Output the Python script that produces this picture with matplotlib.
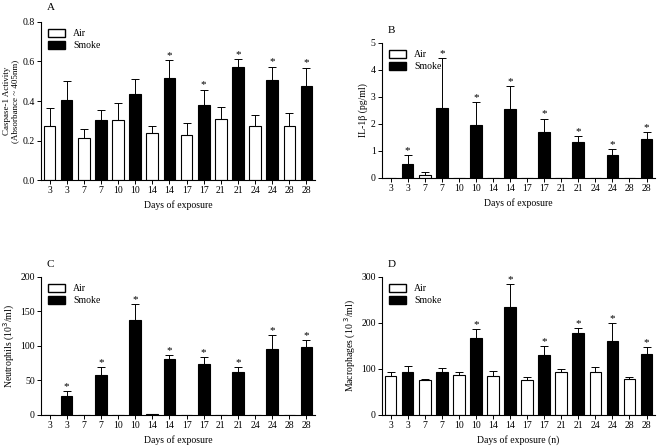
import numpy as np
import matplotlib
matplotlib.use('Agg')
import matplotlib.pyplot as plt
from matplotlib.patches import Patch

plt.rcParams['font.family'] = ['Liberation Serif', 'DejaVu Serif']
plt.rcParams['font.size'] = 7

dias = ['3', '3', '7', '7', '10', '10', '14', '14', '17', '17', '21', '21', '24', '24', '28', '28']
grupos = ['Air', 'Smoke'] * 8

# painel A - caspase-1
casp_val = [0.276, 0.406, 0.215, 0.305, 0.303, 0.434, 0.239, 0.515,
            0.227, 0.382, 0.310, 0.571, 0.276, 0.507, 0.276, 0.478]
casp_err = [0.088, 0.094, 0.043, 0.049, 0.086, 0.079, 0.034, 0.094,
            0.063, 0.076, 0.062, 0.043, 0.051, 0.067, 0.061, 0.091]
casp_sig = [0, 0, 0, 0, 0, 0, 0, 1, 0, 1, 0, 1, 0, 1, 0, 1]

# painel B - IL-1b
il_val = [0, 0.52, 0.10, 2.59, 0, 1.95, 0, 2.56, 0, 1.70, 0, 1.33, 0, 0.85, 0, 1.43]
il_err = [0, 0.31, 0.11, 1.85, 0, 0.85, 0, 0.85, 0, 0.50, 0, 0.21, 0, 0.21, 0, 0.27]
il_sig = [0, 1, 0, 1, 0, 1, 0, 1, 0, 1, 0, 1, 0, 1, 0, 1]

# painel C - neutrofilos
neu_val = [0, 28, 0, 58, 0, 138, 1.5, 81, 0, 74, 0, 62, 0, 95, 0, 98]
neu_err = [0, 7, 0, 12, 0, 22, 0, 6, 0, 10, 0, 8, 0, 21, 0, 11]
neu_sig = [0, 1, 0, 1, 0, 1, 0, 1, 0, 1, 0, 1, 0, 1, 0, 1]

# painel D - macrofagos
mac_val = [84, 94, 75, 94, 87, 167, 85, 234, 77, 130, 94, 178, 94, 161, 78, 133]
mac_err = [10, 12, 3, 8, 6, 19, 11, 50, 6, 19, 5, 10, 10, 38, 5, 14]
mac_sig = [0, 0, 0, 0, 0, 1, 0, 1, 0, 1, 0, 1, 0, 1, 0, 1]

fig = plt.figure(figsize=(6.61, 4.47), dpi=100)


def painel(pos, letra, val, err, sig, ymax, ystep, ylabel, xlabel, fmt, ylfs=7):
    ax = fig.add_axes(pos)
    x = np.arange(len(val))
    cores = ['white' if g == 'Air' else 'black' for g in grupos]
    ax.bar(x, val, width=0.68, color=cores, edgecolor='black', linewidth=0.8, zorder=2)
    ax.errorbar(x, val, yerr=[np.zeros(len(err)), err], fmt='none', ecolor='black',
                elinewidth=0.7, capsize=3, capthick=0.7, zorder=1)
    for i in range(len(val)):
        if sig[i]:
            ax.text(x[i], val[i] + err[i], '*', ha='center', va='bottom', fontsize=8)
    ax.set_xlim(-0.5, len(val) - 0.5)
    ax.set_ylim(0, ymax)
    ax.set_yticks(np.arange(0, ymax + ystep / 2, ystep))
    ax.yaxis.set_major_formatter(plt.FormatStrFormatter(fmt))
    ax.set_xticks(x)
    ax.set_xticklabels(dias)
    ax.spines['top'].set_visible(False)
    ax.spines['right'].set_visible(False)
    ax.tick_params(direction='out', length=3, width=0.7, pad=1.5)
    ax.set_ylabel(ylabel, labelpad=2, fontsize=ylfs, linespacing=1.05)
    ax.set_xlabel(xlabel, labelpad=3.5)
    ax.legend(handles=[Patch(facecolor='white', edgecolor='black', label='Air'),
                       Patch(facecolor='black', edgecolor='black', label='Smoke')],
              loc='upper left', frameon=False, fontsize=7, handlelength=1.8,
              handleheight=0.9, borderaxespad=0.3, labelspacing=0.3,
              bbox_to_anchor=(0.0, 1.0))
    ax.text(0.02, 1.06, letra, transform=ax.transAxes, fontsize=8, va='bottom')
    return ax


painel([0.062, 0.597, 0.4146, 0.354], 'A', casp_val, casp_err, casp_sig, 0.8, 0.2,
       'Caspase-1 Activity\n(Absorbance ~ 405nm)', 'Days of exposure', '%.1f', ylfs=6.5)
painel([0.578, 0.602, 0.413, 0.302], 'B', il_val, il_err, il_sig, 5, 1,
       'IL-1\u03b2 (pg/ml)', 'Days of exposure', '%d')
painel([0.062, 0.0716, 0.4146, 0.309], 'C', neu_val, neu_err, neu_sig, 200, 50,
       'Neutrophils (10$^3$/ml)', 'Days of exposure', '%d')
painel([0.578, 0.0716, 0.413, 0.309], 'D', mac_val, mac_err, mac_sig, 300, 100,
       'Macrophages (10 $^3$/ml)', 'Days of exposure (n)', '%d')

plt.savefig('out.png', dpi=100)
